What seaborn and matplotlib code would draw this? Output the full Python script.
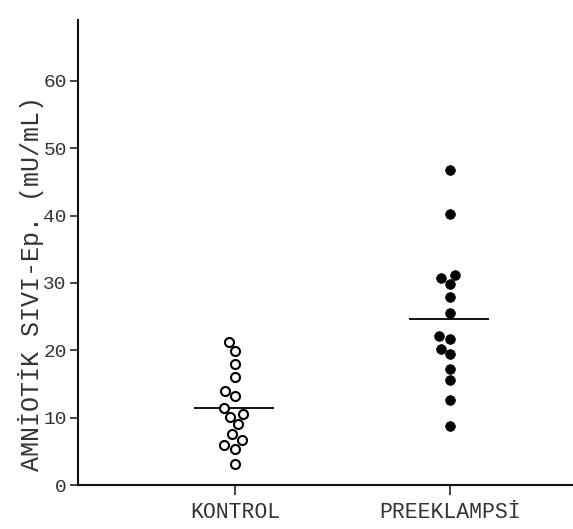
import matplotlib
matplotlib.use("Agg")
import matplotlib.pyplot as plt
import seaborn as sns
import pandas as pd

# Data
groups = ["KONTROL", "PREEKLAMPSİ"]
kontrol = [19.9, 21.3, 18.0, 16.1, 14.0, 13.2, 11.5, 10.5, 10.1, 9.0, 7.6, 6.7, 5.9, 5.4, 3.1]
preeklampsi = [46.8, 40.2, 31.2, 30.7, 29.8, 27.9, 25.5, 22.1, 21.7, 20.2, 19.4, 17.2, 15.6, 12.6, 8.8]
yticks = [0, 10, 20, 30, 40, 50, 60]

df = pd.DataFrame({
    "grup": [groups[0]] * len(kontrol) + [groups[1]] * len(preeklampsi),
    "deger": kontrol + preeklampsi,
})

sns.set_style("ticks")
plt.rcParams["font.family"] = ["Liberation Mono", "DejaVu Sans Mono"]

fig = plt.figure(figsize=(5.73, 5.29), dpi=100)
ax = fig.add_axes([0.136, 0.083, 0.864, 0.879])

sns.swarmplot(data=df[df["grup"] == groups[0]], x="grup", y="deger", order=groups,
              color="white", edgecolor="black", linewidth=1.5, size=6.5, ax=ax)
sns.swarmplot(data=df[df["grup"] == groups[1]], x="grup", y="deger", order=groups,
              color="black", edgecolor="black", linewidth=0.5, size=7, ax=ax)

# mean lines
means = df.groupby("grup")["deger"].mean()
for i, g in enumerate(groups):
    ax.hlines(means[g], i - 0.19, i + 0.18, color="black", linewidth=1.3, zorder=1)

ax.set_xlim(-0.73, 1.572)
ax.set_ylim(0, 69)
ax.set_yticks(yticks)
ax.set_yticklabels([str(t) for t in yticks], fontsize=14, color="#333333")
ax.set_xticks(range(len(groups)))
ax.set_xticklabels(groups, fontsize=15.5, color="#333333")
ax.tick_params(axis="y", direction="out", length=6, width=1.2, pad=2)
ax.tick_params(axis="x", direction="out", length=7, width=1.2, pad=5)

ax.set_xlabel("")
ax.set_ylabel("AMNİOTİK SIVI-Ep. (mU/mL)", fontsize=18, color="#333333")
ax.yaxis.set_label_coords(-0.068, 0.434)

sns.despine(ax=ax)
for s in ["left", "bottom"]:
    ax.spines[s].set_linewidth(1.5)
    ax.spines[s].set_color("#111111")

fig.savefig("out.png", dpi=100)
